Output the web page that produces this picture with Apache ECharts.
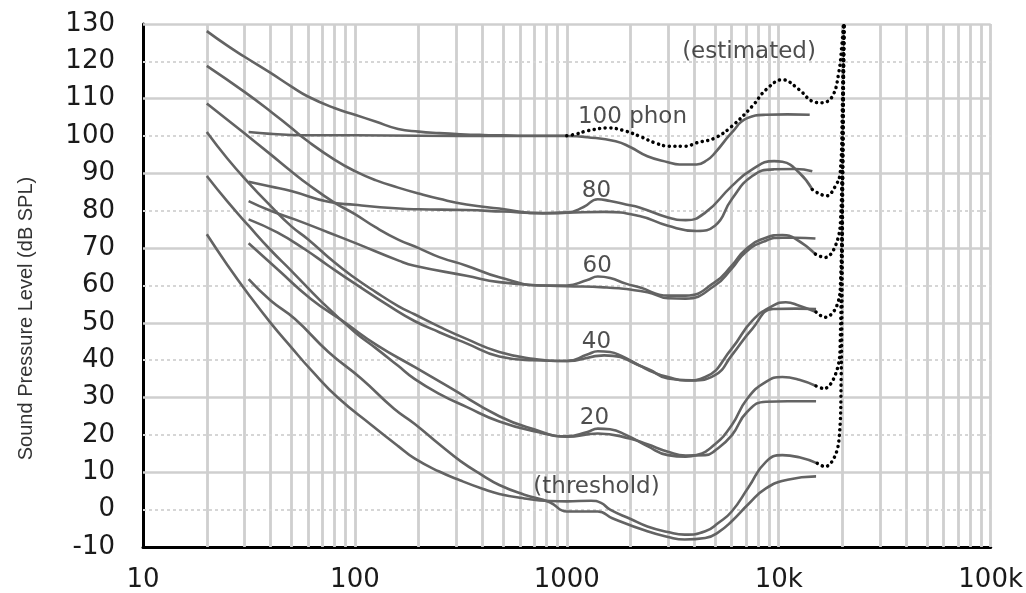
<!DOCTYPE html>
<html><head><meta charset="utf-8">
<script src="https://cdn.jsdelivr.net/npm/echarts@6/dist/echarts.min.js"></script>
<style>html,body{margin:0;padding:0;background:#fff}#c{width:1026px;height:593px}</style>
</head><body><div id="c"></div>
<script>
// ---- tick labels / grid ----
const xTickLabels = ['10', '100', '1000', '10k', '100k'];
const gridFreqs = [20,30,40,50,60,70,80,90,100,200,300,400,500,600,700,800,900,1000,
  2000,3000,4000,5000,6000,7000,8000,9000,10000,20000,30000,40000,50000,60000,70000,80000,90000,100000];
const yMajorLines = [10, 30, 50, 70, 90, 110, 130];
const yMinorLines = [0, 20, 40, 60, 80, 100, 120];
const yAxisName = 'Sound Pressure Level (dB SPL)';

// ---- curves [Hz, dB SPL] ----
const a100 = [[20,128.1],[25,124.2],[30,121.3],[40,116.9],[50,113.3],[60,110.6],[80,107.5],[100,105.7],[125,103.9],[160,101.9],[200,101.2],[250,100.8],[315,100.5],[400,100.3],[500,100.2],[630,100.1],[800,100.1],[1000,100.1]];
const a100est = [[1000,100.1],[1100,100.5],[1250,101.4],[1580,102.2],[1900,101.3],[2200,100],[2600,98.2],[3040,97.3],[3640,97.3],[4100,98.2],[5000,99.5],[6000,102.6],[7500,108],[8700,112.4],[10400,115.1],[12500,112.4],[14400,109.3],[16000,108.9],[17900,110.6],[19200,117],[19900,125],[20200,130]];
const b100 = [[31.5,101.1],[40,100.6],[50,100.3],[63,100.2],[100,100.2],[200,100.1],[500,100],[1000,100],[1250,99.7],[1700,98.6],[2000,97],[2400,94.6],[3000,93],[3400,92.4],[4100,92.4],[4600,93.6],[5000,95.5],[6000,100.9],[7100,104.8],[8700,105.7],[11000,105.8],[14000,105.7]];

const a80 = [[20,118.8],[30,111.9],[40,106.6],[50,102.2],[60,98.6],[80,93.7],[100,90.6],[125,88.2],[160,86.2],[200,84.6],[250,83.2],[336,81.7],[480,80.6],[770,79.3],[1000,79.5],[1200,81],[1400,83.1],[1600,82.6],[1900,81.7],[2200,80.9],[3000,78.2],[3640,77.5],[4500,79.5],[6000,86.6],[7500,91.1],[9500,93.3],[10400,93.1],[12500,90.2],[14400,85.7]];
const a80dot = [[14400,85.7],[15000,85],[16800,84],[18500,86.6],[19500,90.2],[20000,110],[20300,130]];
const b80 = [[31.5,87.8],[40,86.5],[50,85.3],[75,82.4],[100,81.6],[162,80.6],[200,80.4],[336,80.2],[500,79.8],[770,79.4],[1000,79.5],[1500,79.7],[2200,78.6],[3000,76],[4100,74.6],[5000,76],[6000,83.1],[7500,89.3],[9500,91.1],[12000,91.2],[14400,90.6]];

const a60 = [[20,108.7],[30,100.8],[40,95.1],[50,90.6],[60,87.1],[80,82.2],[100,79.1],[125,75.6],[160,72.3],[200,70],[250,67.6],[336,65.3],[480,62.2],[770,60],[1000,60],[1250,61.5],[1400,62.4],[1600,62],[1900,60.5],[2200,59.5],[3000,57.3],[3640,57.3],[5000,60.9],[6000,65.3],[7000,69.7],[8700,72.8],[10400,73.5],[12000,72.5],[14900,68.4]];
const a60dot = [[14900,68.4],[16500,67.5],[18500,70.6],[19600,78],[20000,105],[20300,130]];
const b60 = [[31.5,82.6],[40,80],[52,77.7],[75,74.2],[100,71.4],[162,66.6],[191,65.3],[336,62.6],[480,60.9],[770,60],[1000,59.8],[1500,59.5],[2400,58.2],[3000,56.6],[3640,56.5],[5000,60],[6000,64.5],[7000,69],[8700,72],[10400,72.8],[12000,72.8],[14900,72.6]];

const a40 = [[20,101.1],[25,94],[31.5,87.5],[40,81.3],[50,75.9],[60,72.4],[80,66.2],[100,62],[125,58.3],[160,54.5],[191,52.3],[250,49],[336,45.7],[480,42.2],[690,40.4],[1000,39.8],[1250,41.5],[1400,42.4],[1600,42.2],[1800,41.2],[2200,38.6],[2600,36.6],[3000,35.5],[3640,34.6],[4500,35.5],[6000,43.1],[7500,50.6],[9400,54.6],[10800,55.5],[12500,54.6],[15000,52.9]];
const a40dot = [[15000,52.9],[16500,51.5],[18800,54.6],[19600,62],[20000,95],[20300,130]];
const b40 = [[31.5,77.7],[43,74.2],[58,69.7],[75,65.3],[100,60.5],[150,54],[191,50.5],[250,47.5],[336,44.5],[480,41],[690,40],[1000,39.8],[1500,41.3],[2400,37.7],[3000,35.1],[3900,34.6],[5000,36],[6000,41.3],[7500,48.4],[9400,53.7],[12000,53.8],[15000,53.7]];

const a20 = [[20,89.3],[25,82.5],[31.5,76],[40,69.5],[50,64],[70,55.5],[100,47.5],[125,43.3],[160,38.5],[191,35],[250,31],[336,27.5],[480,23.6],[700,21],[1000,19.6],[1250,20.8],[1400,21.7],[1600,21.5],[1900,20],[2400,17],[3000,14.6],[3640,14.2],[4100,14.6],[5000,17.5],[6000,22.6],[7100,29.7],[8700,34.2],[10400,35.5],[12500,34.8],[15000,33.1]];
const a20dot = [[15000,33.1],[16300,32.4],[18900,37.7],[19500,44.8],[20000,90],[20300,130]];
const b20 = [[31.5,71.3],[43,64.4],[62,56.4],[89,50.2],[128,43.9],[191,38.2],[280,32.7],[480,25],[700,21.5],[1000,19.5],[1400,20.4],[2000,19],[2400,17.5],[3000,15.5],[3640,14.5],[4500,14.6],[5000,15.8],[6000,19.9],[7100,26.2],[8700,28.9],[11000,29],[15000,29]];

const a0 = [[20,73.7],[25,65.5],[31.5,57.6],[40,50],[50,43.5],[63,37],[83,30],[120,22.6],[160,17],[191,13.7],[250,10.2],[315,7.8],[400,5.6],[480,4.2],[630,3],[830,2.3],[1000,2.2],[1300,2.4],[1450,1.8],[1600,0],[2000,-2.5],[2400,-4.5],[3000,-6],[3600,-6.7],[4500,-5.8],[5200,-3.5],[6000,-0.5],[7200,6],[8700,12.8],[10400,14.6],[12500,14],[15200,12.4]];
const a0dot = [[15200,12.4],[16500,11.5],[19200,18.2],[19700,35],[20000,80],[20300,130]];
const b0 = [[31.5,61.7],[40,56],[52,51.1],[75,42.2],[107,35.1],[153,27],[191,23],[250,17.5],[315,13],[400,9.2],[480,6.6],[630,4],[830,2],[1000,-0.5],[1400,-0.5],[1640,-2.3],[2400,-5.8],[3000,-7.3],[3600,-8],[4500,-7.6],[5200,-6],[6000,-3.1],[7200,1.5],[8700,5.7],[11000,8],[15000,8.9]];

// ---- annotations ----
const annoText = ['(estimated)', '100 phon', '80', '60', '40', '20', '(threshold)'];
const annoFreq = [7240, 2040, 1380, 1390, 1380, 1350, 1380];
const annoDb = [122.5, 105.2, 85.2, 65.2, 45, 24.4, 6.1];

const chart = echarts.init(document.getElementById('c'));
const solid = (name, data) => ({
  type: 'line', name, data, symbol: 'none', smooth: 0.5,
  silent: true, z: 3, lineStyle: { color: '#636363', width: 2.6 }
});
const dotted = (name, data) => ({
  type: 'line', name, data, symbol: 'none', smooth: 0.4,
  silent: true, z: 4, lineStyle: { color: '#000', width: 3.5, type: [0.1, 5.5], cap: 'round' }
});
const labelFont = { fontFamily: 'DejaVu Sans', fontSize: 26, color: '#1a1a1a' };
const gridColor = '#cfcfcf';

const gridLines = [].concat(
  gridFreqs.map(f => ({ xAxis: f, lineStyle: { color: gridColor, width: 2.8, type: 'solid' } })),
  yMinorLines.map(v => ({ yAxis: v, lineStyle: { color: '#d6d6d6', width: 2, type: [3, 3] } })),
  yMajorLines.map(v => ({ yAxis: v, lineStyle: { color: gridColor, width: 2.5, type: 'solid' } }))
);

chart.setOption({
  animation: false,
  backgroundColor: '#fff',
  grid: { left: 143, right: 33, top: 24, bottom: 45 },
  xAxis: { type: 'log', logBase: 10, min: 10, max: 100000,
    axisLine: { onZero: false, lineStyle: { color: '#000', width: 3 } },
    axisTick: { show: false }, splitLine: { show: false },
    axisLabel: Object.assign({ margin: 20,
      formatter: v => xTickLabels[Math.round(Math.log10(v)) - 1] || '' }, labelFont) },
  yAxis: { type: 'value', min: -10, max: 130, interval: 10,
    axisLine: { show: true, onZero: false, lineStyle: { color: '#000', width: 3 } },
    axisTick: { show: false }, splitLine: { show: false },
    axisLabel: Object.assign({ margin: 28 }, labelFont),
    name: yAxisName, nameLocation: 'middle', nameGap: 107,
    nameTextStyle: { fontFamily: 'Liberation Sans', fontSize: 20, color: '#333', padding: [0, 66, 0, 0] } },
  series: [
    { type: 'line', name: 'grid', data: [], silent: true, z: 1,
      markLine: { silent: true, z: 1, animation: false, symbol: ['none', 'none'],
        label: { show: false }, emphasis: { disabled: true }, data: gridLines } },
    solid('a100', a100), dotted('a100est', a100est), solid('b100', b100),
    solid('a80', a80), dotted('a80dot', a80dot), solid('b80', b80),
    solid('a60', a60), dotted('a60dot', a60dot), solid('b60', b60),
    solid('a40', a40), dotted('a40dot', a40dot), solid('b40', b40),
    solid('a20', a20), dotted('a20dot', a20dot), solid('b20', b20),
    solid('a0', a0), dotted('a0dot', a0dot), solid('b0', b0),
    { type: 'scatter', name: 'labels', symbolSize: 0, silent: true, z: 6,
      data: annoText.map((t, i) => ({ name: t, value: [annoFreq[i], annoDb[i]] })),
      label: { show: true, position: 'inside', formatter: p => p.name,
        fontFamily: 'DejaVu Sans', fontSize: 23, color: '#222' } }
  ]
});
</script>
</body></html>
